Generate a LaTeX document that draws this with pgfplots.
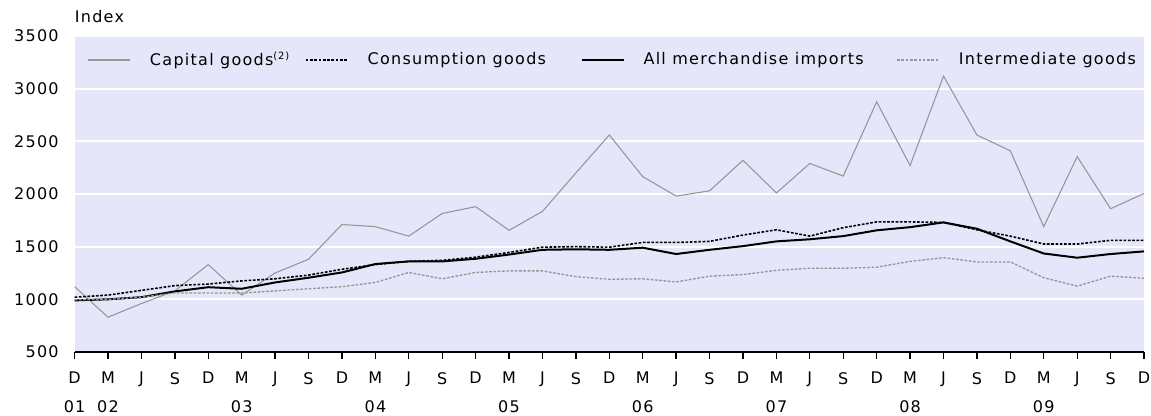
\documentclass[border=0pt]{standalone}
\usepackage{fontspec}
\setmainfont[LetterSpace=8]{DejaVu Sans}
\usepackage{pgfplots}
\usepackage{pgfplotstable}
\pgfplotsset{compat=1.18}
\definecolor{bg}{RGB}{230,230,250}
\definecolor{capg}{RGB}{150,150,150}
\definecolor{intg}{RGB}{150,150,150}
\pgfplotstableread{
x cap con all int
0 1120 1020 990 995
1 830 1040 1000 1000
2 960 1085 1020 1020
3 1080 1130 1075 1060
4 1330 1145 1115 1060
5 1040 1175 1100 1060
6 1250 1195 1160 1080
7 1380 1230 1205 1100
8 1710 1285 1255 1120
9 1690 1330 1335 1160
10 1600 1360 1360 1255
11 1815 1370 1360 1195
12 1880 1400 1385 1255
13 1655 1445 1425 1270
14 1835 1495 1470 1270
15 2200 1500 1475 1215
16 2560 1495 1470 1190
17 2165 1540 1490 1195
18 1980 1540 1430 1165
19 2030 1550 1470 1220
20 2320 1610 1505 1235
21 2010 1660 1550 1275
22 2290 1600 1570 1295
23 2170 1680 1600 1295
24 2875 1735 1655 1305
25 2270 1735 1685 1360
26 3120 1730 1730 1395
27 2560 1660 1670 1355
28 2410 1600 1550 1355
29 1690 1525 1435 1205
30 2355 1525 1395 1125
31 1860 1560 1430 1220
32 2005 1560 1455 1200
}\data
\begin{document}
\fontsize{12}{14}\selectfont
\begin{tikzpicture}
\begin{axis}[
  name=ax, scale only axis, width=802.1pt, height=237pt,
  xmin=0, xmax=32, ymin=500, ymax=3500,
  axis lines*=left,
  y axis line style={draw=none},
  x axis line style={black, line width=1.3pt, -},
  axis background/.style={fill=bg},
  ymajorgrids, major grid style={white, line width=1.5pt},
  ytick={500,1000,1500,2000,2500,3000,3500},
  yticklabels={500,1000,1500,2000,2500,3000,3500},
  xtick={0,...,32},
  xticklabels={D,M,J,S,D,M,J,S,D,M,J,S,D,M,J,S,D,M,J,S,D,M,J,S,D,M,J,S,D,M,J,S,D},
  tick align=outside, major tick length=5pt,
  xtick style={black, line width=1pt},
  ytick style={draw=none},
  xticklabel style={yshift=-6pt},
  yticklabel style={xshift=-2.75pt},
  extra x ticks={0,1,5,9,13,17,21,25,29},
  extra x tick labels={01,02,03,04,05,06,07,08,09},
  extra x tick style={grid=none, tick style={draw=none}, xticklabel style={yshift=-21.4pt}},
  /pgf/number format/assume math mode=true,
  legend columns=4,
  legend image code/.code={\draw[#1] (0pt,0pt) -- (31.5pt,0pt);},
  legend style={at={(0,1)}, anchor=west, xshift=10pt, yshift=-18pt,
    draw=none, fill=none, inner sep=0pt, outer sep=0pt,
    nodes={inner sep=0pt, outer sep=0pt},
    column sep=0pt,
    /tikz/every odd column/.append style={column sep=14.25pt}},
]
\addplot[capg, line width=0.8pt] table[x=x,y=cap]{\data};
\addlegendentry{\makebox[116.25pt][l]{Capital goods\raisebox{4.5pt}{\fontsize{7.5}{8}\selectfont(2)}}}
\addplot[black, line width=1.2pt, dash pattern=on 2pt off 1.2pt] table[x=x,y=con]{\data};
\addlegendentry{\makebox[159.75pt][l]{Consumption goods}}
\addplot[black, line width=1.5pt] table[x=x,y=all]{\data};
\addlegendentry{\makebox[189.75pt][l]{All merchandise imports}}
\addplot[intg, line width=1pt, dash pattern=on 2pt off 1.2pt] table[x=x,y=int]{\data};
\addlegendentry{Intermediate goods}
\end{axis}
\node[anchor=base west, inner sep=0pt] at ([yshift=9.75pt]ax.north west) {Index};
\pgfresetboundingbox
\path ([xshift=-55.95pt,yshift=-48pt]ax.south west) rectangle ([xshift=5.25pt,yshift=27pt]ax.north east);
\end{tikzpicture}
\end{document}
